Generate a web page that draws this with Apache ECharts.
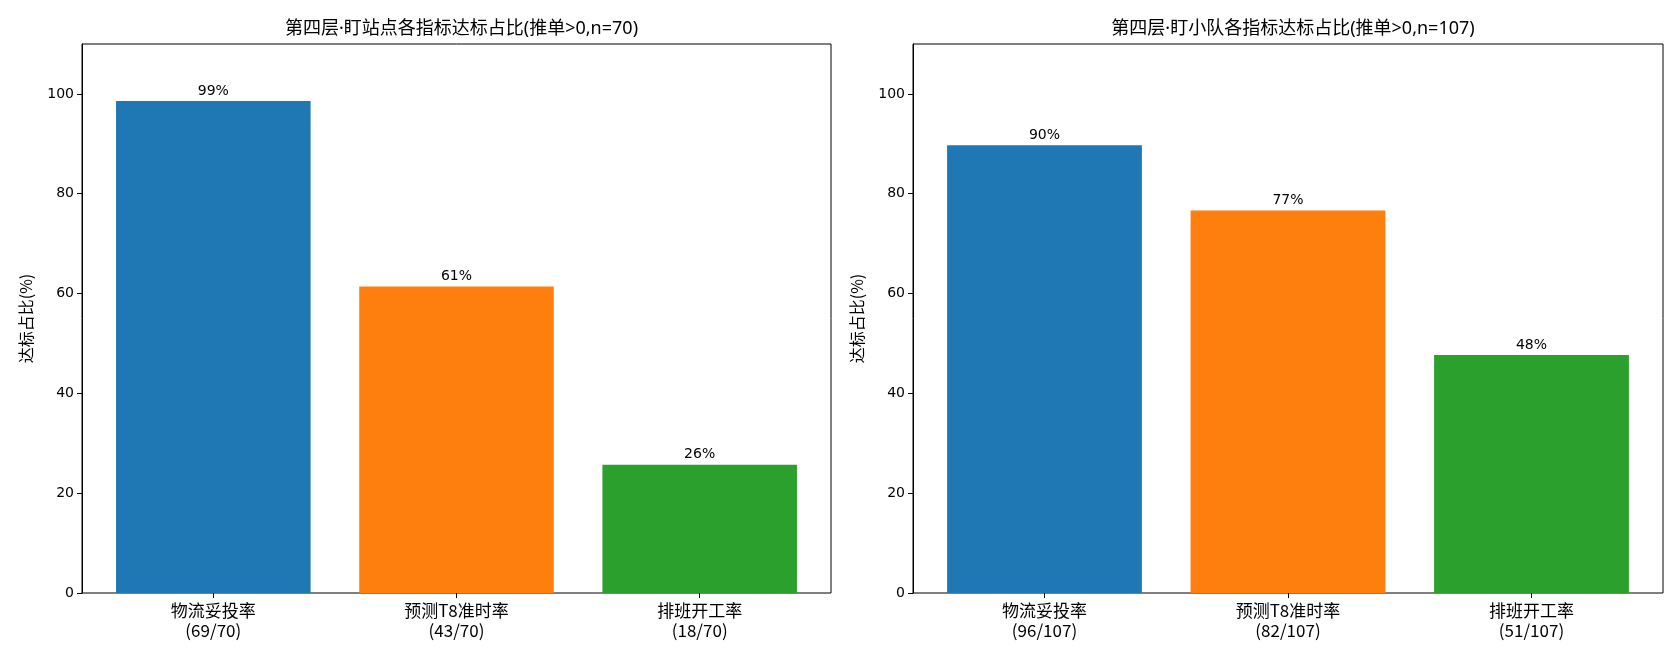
<!DOCTYPE html>
<html>
<head>
<meta charset="utf-8">
<script src="https://cdn.jsdelivr.net/npm/echarts@6/dist/echarts.min.js"></script>
<style>html,body{margin:0;padding:0;background:#fff}#c{width:1680px;height:660px}</style>
</head>
<body>
<div id="c"></div>
<script>
const categories = ['物流妥投率', '预测T8准时率', '排班开工率'];
const leftTitle = '第四层·盯站点各指标达标占比(推单>0,n=70)';
const rightTitle = '第四层·盯小队各指标达标占比(推单>0,n=107)';
const leftN = 70;
const leftCounts = [69, 43, 18];
const rightN = 107;
const rightCounts = [96, 82, 51];
const yTicks = [0, 20, 40, 60, 80, 100];
const colors = ['#1f77b4', '#ff7f0e', '#2ca02c'];
const yLabel = '达标占比(%)';

const CJK = '"Noto Sans CJK SC", "DejaVu Sans", sans-serif';
const TTL = '"Noto Sans", "Noto Sans CJK SC", sans-serif';
const LAT = '"DejaVu Sans", "Noto Sans CJK SC", sans-serif';

function catLabels(counts, n) {
  return categories.map((c, i) => c + '\n(' + counts[i] + '/' + n + ')');
}
function seriesData(counts, n) {
  return counts.map((v, i) => ({ value: v / n * 100, itemStyle: { color: colors[i] } }));
}

const frames = [
  { left: 82, top: 44, width: 749, height: 549 },
  { left: 913, top: 44, width: 750, height: 549 }
];
const grids = [];
const xAxes = [];
const yAxes = [];
const series = [];
const titles = [];
[[leftCounts, leftN, leftTitle], [rightCounts, rightN, rightTitle]].forEach((p, k) => {
  const f = frames[k];
  const unit = f.width / 3.08;
  const inset = unit * 0.04;
  const gFrame = grids.length;
  grids.push({ left: f.left, top: f.top, width: f.width, height: f.height, show: true, borderColor: '#000', borderWidth: 1, backgroundColor: 'transparent' });
  const gData = grids.length;
  grids.push({ left: f.left + inset, top: f.top, width: f.width - 2 * inset, height: f.height });
  xAxes.push({ type: 'value', gridIndex: gFrame, show: false, min: 0, max: 1 });
  yAxes.push({
    type: 'value', gridIndex: gFrame, min: 0, max: 110, interval: 20,
    name: yLabel, nameLocation: 'middle', nameRotate: 90, nameGap: 48,
    nameTextStyle: { fontFamily: CJK, fontSize: 16, color: '#000' },
    axisLine: { show: true, lineStyle: { color: '#000', width: 1 } },
    axisTick: { show: true, length: 5, customValues: yTicks, lineStyle: { color: '#000' } },
    axisLabel: { customValues: yTicks, fontFamily: LAT, fontSize: 14, color: '#000', margin: 8 },
    splitLine: { show: false }
  });
  const xi = xAxes.length;
  xAxes.push({
    type: 'category', gridIndex: gData, data: catLabels(p[0], p[1]),
    axisLine: { show: false },
    axisTick: { show: true, alignWithLabel: true, length: 5, lineStyle: { color: '#000' } },
    axisLabel: { fontFamily: CJK, fontSize: 17, lineHeight: 20, color: '#000', margin: 8, interval: 0 }
  });
  const yi = yAxes.length;
  yAxes.push({ type: 'value', gridIndex: gData, min: 0, max: 110, show: false, splitLine: { show: false } });
  series.push({
    type: 'bar', xAxisIndex: xi, yAxisIndex: yi, barWidth: '80%',
    data: seriesData(p[0], p[1]),
    label: { show: true, position: 'top', distance: 3, fontFamily: LAT, fontSize: 14, color: '#000',
      formatter: (d) => Math.round(d.value) + '%' }
  });
  titles.push({
    text: p[2], left: f.left + f.width / 2, top: 15, textAlign: 'center',
    textStyle: { fontFamily: TTL, fontSize: 18, fontWeight: 'normal', color: '#000' }
  });
});

const chart = echarts.init(document.getElementById('c'));
chart.setOption({
  animation: false,
  backgroundColor: '#fff',
  title: titles,
  grid: grids,
  xAxis: xAxes,
  yAxis: yAxes,
  series: series
});
</script>
</body>
</html>
